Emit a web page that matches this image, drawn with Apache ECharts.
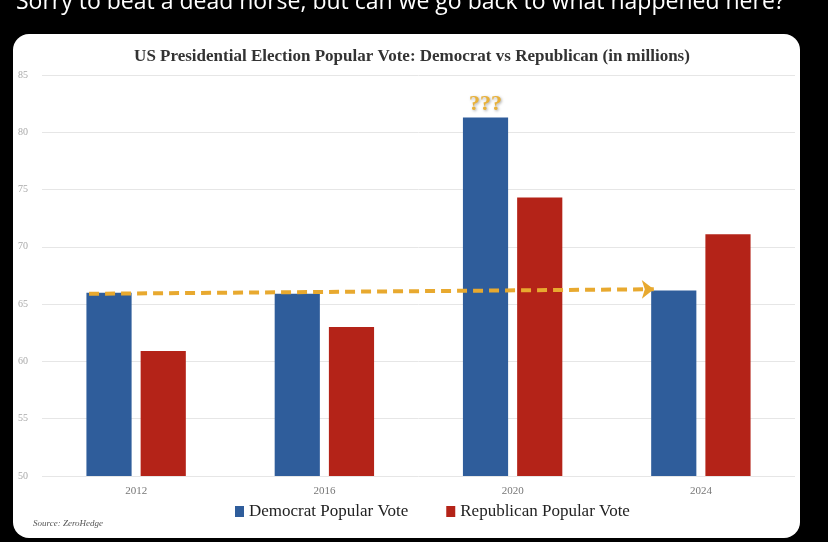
<!DOCTYPE html>
<html>
<head>
<meta charset="utf-8">
<script src="https://cdn.jsdelivr.net/npm/echarts@6/dist/echarts.min.js"></script>
<style>
  html, body { margin: 0; padding: 0; background: #000; }
  #chart { width: 828px; height: 542px; }
</style>
</head>
<body>
<div id="chart"></div>
<script>
// values, millions of votes
const years = ["2012", "2016", "2020", "2024"];
const democrat = [66.0, 65.9, 81.3, 66.2];
const republican = [60.9, 63.0, 74.3, 71.1];
const yTicks = [50, 55, 60, 65, 70, 75, 80, 85];
// dashed arrow: start at 2012 dem bar, end at 2024 dem bar (x in category units)
const arrowFrom = [-0.25, 65.9];
const arrowTo = [2.75, 66.3];

const serif = "'Liberation Serif', 'DejaVu Serif', serif";
let chart = echarts.init(document.getElementById("chart"));

chart.setOption({
  backgroundColor: "#000",
  animation: false,
  graphic: [
    {
      type: "text", left: 16, top: -9,
      style: { text: "Sorry to beat a dead horse, but can we go back to what happened here?", fill: "#fff", font: "23px 'Open Sans', sans-serif" }
    },
    {
      type: "rect", left: 13, top: 34, z: -10,
      shape: { width: 787, height: 504, r: 16 },
      style: { fill: "#fff" }
    },
    {
      type: "text", left: 33, top: 519,
      style: { text: "Source: ZeroHedge", fill: "#555", font: "italic 9px " + serif }
    }
  ],
  title: {
    text: "US Presidential Election Popular Vote: Democrat vs Republican (in millions)",
    left: 407, top: 43, textAlign: "center",
    textStyle: { fontFamily: serif, fontSize: 17, fontWeight: "bold", color: "#333" }
  },
  legend: {
    bottom: 17, left: 230, itemWidth: 9, itemHeight: 11, itemGap: 38,
    icon: "rect",
    textStyle: { fontFamily: serif, fontSize: 17, color: "#222" }
  },
  grid: { left: 42, right: 33, top: 75, bottom: 66 },
  xAxis: [
    {
      type: "category", data: years,
      axisLine: { show: false }, axisTick: { show: false },
      axisLabel: { fontFamily: serif, fontSize: 11, color: "#777", margin: 10 }
    },
    { type: "value", min: -0.5, max: 3.5, show: false }
  ],
  yAxis: {
    type: "value", min: yTicks[0], max: yTicks[yTicks.length - 1], interval: 5,
    axisLine: { show: false }, axisTick: { show: false },
    axisLabel: { fontFamily: serif, fontSize: 10, color: "#aaa", margin: 14 },
    splitLine: { lineStyle: { color: "#e6e6e6" } }
  },
  series: [
    {
      name: "Democrat Popular Vote", type: "bar", data: democrat.map((v, i) => i === 2 ? {
        value: v,
        label: { show: true, position: "top", formatter: "???", color: "#e8b13a", fontSize: 22, fontWeight: "bold", fontFamily: serif, distance: 2,
          textShadowColor: "rgba(0,0,0,0.35)", textShadowBlur: 3, textShadowOffsetX: 1, textShadowOffsetY: 1 }
      } : v),
      barWidth: "24%", barGap: "20%",
      itemStyle: { color: "#2f5d9b" }
    },
    {
      name: "Republican Popular Vote", type: "bar", data: republican,
      barWidth: "24%",
      itemStyle: { color: "#b42318" }
    },
    {
      type: "line", xAxisIndex: 1, data: [], silent: true,
      markLine: {
        silent: true, symbol: ["none", "arrow"], symbolSize: [14, 12],
        label: { show: false },
        lineStyle: { color: "#e8a92f", width: 4, type: [10, 6] },
        data: [[{ coord: arrowFrom }, { coord: arrowTo }]]
      }
    }
  ]
});
</script>
</body>
</html>
